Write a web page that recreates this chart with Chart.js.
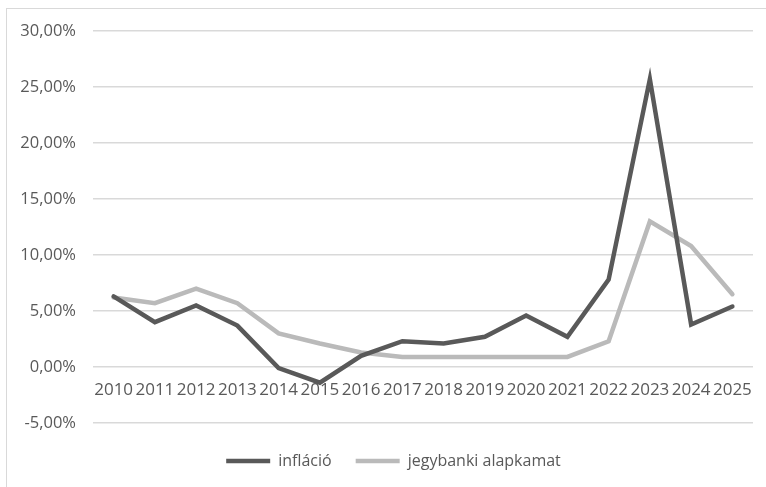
<!DOCTYPE html>
<html lang="hu">
<head>
<meta charset="utf-8">
<title>Infláció és jegybanki alapkamat</title>
<script src="https://cdn.jsdelivr.net/npm/chart.js@4"></script>
<style>
  html, body { margin: 0; padding: 0; background: #fff; overflow: hidden; }
  .wrap { position: relative; width: 766px; height: 487px; overflow: hidden; }
  .frame { position: absolute; left: 6px; top: 8px; width: 800px; height: 600px; border: 1.5px solid #d9d9d9; box-sizing: border-box; }
  canvas { position: absolute; left: 0; top: 0; }
</style>
</head>
<body>
<div class="wrap">
  <div class="frame"></div>
  <canvas id="chart" width="766" height="487"></canvas>
</div>
<script>
// évek és a két idősor (%)
const years = ['2010','2011','2012','2013','2014','2015','2016','2017','2018','2019','2020','2021','2022','2023','2024','2025'];
const inflacio = [6.3, 4.0, 5.5, 3.7, -0.1, -1.4, 1.0, 2.3, 2.1, 2.7, 4.6, 2.7, 7.8, 25.7, 3.8, 5.4];
const alapkamat = [6.2, 5.7, 7.0, 5.7, 3.0, 2.1, 1.3, 0.9, 0.9, 0.9, 0.9, 0.9, 2.3, 13.0, 10.8, 6.5];

const FONT = "'Open Sans', sans-serif";
const TEXT = '#595959';
const GRID = '#d9d9d9';

const pct = (v) => v.toFixed(2).replace('.', ',') + '%';

// a jelmagyarázatot kicsit jobbra és lejjebb toljuk
const legendNudge = {
  id: 'legendNudge',
  afterLayout(c) {
    const lg = c.legend;
    if (!lg) return;
    lg.left += 7; lg.right += 7;
    lg.top += 6; lg.bottom += 6;
  }
};

const ctx = document.getElementById('chart').getContext('2d');
const chart = new Chart(ctx, {
  type: 'line',
  data: {
    labels: years,
    datasets: [
      {
        label: 'infláció',
        data: inflacio,
        borderColor: '#595959',
        backgroundColor: '#595959',
        borderWidth: 4.5,
        borderCapStyle: 'round',
        pointRadius: 0,
        tension: 0
      },
      {
        label: 'jegybanki alapkamat',
        data: alapkamat,
        borderColor: '#bababa',
        backgroundColor: '#bababa',
        borderWidth: 4.5,
        borderCapStyle: 'round',
        pointRadius: 0,
        tension: 0
      }
    ]
  },
  options: {
    responsive: false,
    animation: false,
    layout: { padding: { left: 20, right: 13, top: 31, bottom: 14 } },
    plugins: {
      tooltip: { enabled: false },
      legend: {
        position: 'bottom',
        labels: {
          usePointStyle: true,
          pointStyle: 'line',
          pointStyleWidth: 44,
          padding: 24,
          color: TEXT,
          font: { family: FONT, size: 16 }
        }
      }
    },
    scales: {
      x: {
        type: 'category',
        position: { y: 0 },
        offset: true,
        grid: { display: false },
        border: { display: false },
        ticks: {
          color: TEXT,
          font: { family: FONT, size: 17 },
          autoSkip: false,
          maxRotation: 0,
          minRotation: 0,
          padding: 5
        }
      },
      y: {
        min: -5,
        max: 30,
        grid: { color: GRID, lineWidth: 1.5, drawTicks: false },
        border: { display: false },
        ticks: {
          stepSize: 5,
          color: TEXT,
          font: { family: FONT, size: 16.5 },
          padding: 17,
          callback: (v) => pct(v)
        },
        afterFit: (scale) => { scale.width = 73; }
      }
    }
  },
  plugins: [legendNudge]
});
</script>
</body>
</html>
